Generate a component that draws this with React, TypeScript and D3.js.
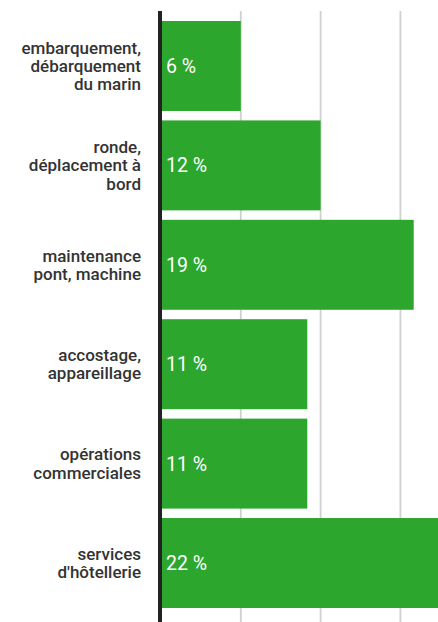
import React from "react";
import * as d3 from "d3";

const categories = [
  "embarquement,\ndébarquement\ndu marin",
  "ronde,\ndéplacement à\nbord",
  "maintenance\npont, machine",
  "accostage,\nappareillage",
  "opérations\ncommerciales",
  "services\nd'hôtellerie",
];
const values = [6, 12, 19, 11, 11, 22];
const gridTicks = [6, 12, 18];
const valueLabels = ["6 %", "12 %", "19 %", "11 %", "11 %", "22 %"];

const W = 438;
const H = 622;

export default function App() {
  const x = d3.scaleLinear().domain([0, 21]).range([161, 161 + 21 * 13.3]);
  const y = d3
    .scaleBand<string>()
    .domain(categories)
    .range([21, 608])
    .paddingInner(0.095)
    .paddingOuter(0);
  const green = "#2ca62c";
  return (
    <svg
      width={W}
      height={H}
      style={{ position: "fixed", left: 0, top: 0, background: "#fff" }}
      fontFamily="Roboto, sans-serif"
    >
      {gridTicks.map((t) => (
        <line key={t} x1={x(t)} x2={x(t)} y1={11} y2={H} stroke="#d0d0d0" strokeWidth={1.8} />
      ))}
      {categories.map((c, i) => {
        const y0 = y(c)!;
        const bh = y.bandwidth();
        const cy = y0 + bh / 2;
        const lines = c.split("\n");
        const lh = 18.3;
        return (
          <g key={c}>
            <rect x={x(0)} y={y0} width={x(values[i]) - x(0)} height={bh} fill={green} />
            <text x={166} y={cy} dy="0.36em" fill="#fff" fontSize={19.5}>
              {valueLabels[i]}
            </text>
            <text textAnchor="end" fill="#333" fontSize={17} fontWeight={500}>
              {lines.map((l, j) => (
                <tspan key={j} x={141} y={cy + (j - (lines.length - 1) / 2) * lh} dy="0.35em">
                  {l}
                </tspan>
              ))}
            </text>
          </g>
        );
      })}
      <line x1={160} x2={160} y1={11} y2={H} stroke="#222" strokeWidth={4} />
    </svg>
  );
}
